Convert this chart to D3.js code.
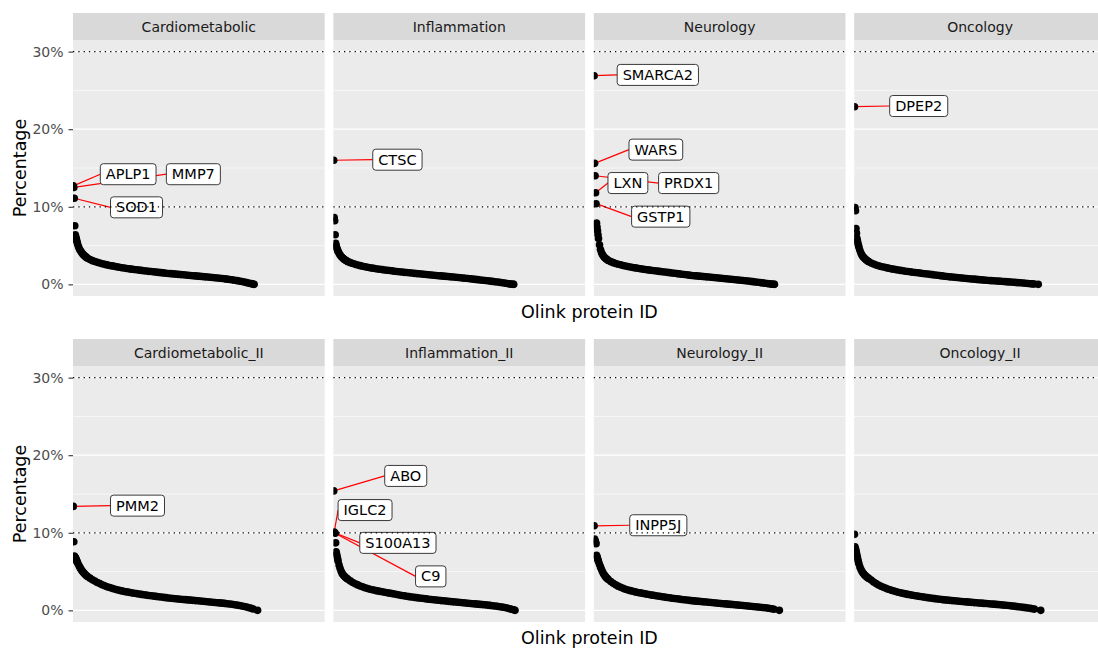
<!DOCTYPE html>
<html>
<head>
<meta charset="utf-8">
<script src="https://cdn.jsdelivr.net/npm/d3@7"></script>
<style>
  body { margin: 0; background: #fff; }
  svg { display: block; font-family: "DejaVu Sans", sans-serif; }
</style>
</head>
<body>
<svg id="chart" width="1098" height="648"></svg>
<script>
const panels = ["Cardiometabolic", "Inflammation", "Neurology", "Oncology",
  "Cardiometabolic_II", "Inflammation_II", "Neurology_II", "Oncology_II"];

// protein rank (sorted by percentage) at which each value was read
const sampleRanks = [1, 2, 3, 4, 5, 6, 7, 8, 9, 10,
  12, 14, 16, 18, 20, 22, 24, 26, 28, 30,
  35, 40, 45, 50, 55, 60, 65, 70, 75, 80,
  85, 90, 95, 100, 105, 110, 115, 120, 125, 130,
  135, 140, 145, 150, 155, 160, 165, 170, 175, 180,
  185, 190, 195, 200, 205, 210, 215, 220, 225, 230,
  235, 240, 245, 250, 255, 260, 265, 270, 275, 280,
  285, 290, 295, 300, 305, 310, 315, 320, 325, 330,
  335, 340, 345, 350, 355, 360, 364, 368];

// number of proteins per panel (rank of the last point)
const proteinCount = [370, 368, 369, 376, 377, 371, 379, 381];

// percentage per sampled rank, last value = last protein
const cardiometabolic = [12.7, 12.5, 11.1, 7.55, 6.4, 6.15, 5.9, 5.65, 5.4, 5.15,
  4.8, 4.5, 4.3, 4.1, 3.95, 3.8, 3.68, 3.57, 3.47, 3.38,
  3.2, 3.06, 2.94, 2.84, 2.75, 2.66, 2.58, 2.51, 2.44, 2.38,
  2.32, 2.26, 2.2, 2.15, 2.1, 2.05, 2.0, 1.96, 1.92, 1.88,
  1.84, 1.8, 1.76, 1.72, 1.68, 1.65, 1.61, 1.58, 1.54, 1.51,
  1.48, 1.44, 1.41, 1.38, 1.35, 1.32, 1.29, 1.26, 1.24, 1.21,
  1.18, 1.15, 1.12, 1.09, 1.06, 1.03, 1.0, 0.97, 0.94, 0.91,
  0.88, 0.85, 0.82, 0.78, 0.75, 0.71, 0.67, 0.63, 0.58, 0.53,
  0.48, 0.42, 0.36, 0.29, 0.22, 0.15, 0.09, 0.03, 0];
const inflammation = [16.0, 8.6, 8.2, 6.4, 5.3, 5.0, 4.75, 4.55, 4.4, 4.25,
  4.0, 3.8, 3.62, 3.48, 3.36, 3.25, 3.16, 3.08, 3.0, 2.93,
  2.8, 2.68, 2.58, 2.49, 2.41, 2.34, 2.27, 2.21, 2.15, 2.09,
  2.04, 1.99, 1.94, 1.9, 1.86, 1.82, 1.78, 1.74, 1.7, 1.66,
  1.62, 1.59, 1.55, 1.52, 1.49, 1.46, 1.42, 1.39, 1.36, 1.33,
  1.3, 1.27, 1.24, 1.21, 1.18, 1.15, 1.12, 1.09, 1.06, 1.03,
  1.0, 0.97, 0.94, 0.91, 0.88, 0.85, 0.81, 0.78, 0.75, 0.71,
  0.68, 0.64, 0.61, 0.57, 0.53, 0.5, 0.46, 0.42, 0.38, 0.34,
  0.3, 0.26, 0.21, 0.16, 0.11, 0.06, 0.03, 0.01, 0];
const neurology = [26.9, 15.6, 14.0, 11.8, 10.4, 7.9, 7.4, 6.9, 6.4, 5.9,
  5.1, 4.5, 4.1, 3.85, 3.65, 3.5, 3.37, 3.26, 3.16, 3.08,
  2.93, 2.8, 2.69, 2.6, 2.52, 2.44, 2.37, 2.3, 2.24, 2.18,
  2.12, 2.07, 2.02, 1.97, 1.92, 1.87, 1.83, 1.79, 1.75, 1.71,
  1.67, 1.63, 1.59, 1.55, 1.51, 1.47, 1.43, 1.39, 1.35, 1.31,
  1.27, 1.23, 1.19, 1.15, 1.12, 1.09, 1.06, 1.03, 1.0, 0.97,
  0.94, 0.91, 0.88, 0.85, 0.82, 0.79, 0.76, 0.73, 0.69, 0.66,
  0.63, 0.6, 0.56, 0.53, 0.5, 0.46, 0.43, 0.39, 0.35, 0.31,
  0.27, 0.23, 0.19, 0.14, 0.1, 0.06, 0.03, 0.01, 0];
const oncology = [22.9, 9.9, 9.5, 7.2, 6.6, 5.95, 5.6, 5.3, 5.05, 4.8,
  4.4, 4.05, 3.8, 3.6, 3.45, 3.32, 3.2, 3.1, 3.01, 2.93,
  2.76, 2.62, 2.5, 2.4, 2.31, 2.23, 2.16, 2.09, 2.02, 1.96,
  1.9, 1.85, 1.8, 1.75, 1.7, 1.65, 1.61, 1.57, 1.53, 1.49,
  1.45, 1.41, 1.37, 1.33, 1.29, 1.25, 1.21, 1.17, 1.13, 1.09,
  1.05, 1.01, 0.97, 0.94, 0.91, 0.88, 0.85, 0.82, 0.79, 0.76,
  0.73, 0.7, 0.67, 0.64, 0.61, 0.58, 0.55, 0.53, 0.5, 0.48,
  0.46, 0.44, 0.42, 0.4, 0.37, 0.35, 0.32, 0.3, 0.27, 0.25,
  0.22, 0.2, 0.17, 0.14, 0.11, 0.08, 0.06, 0.04, 0];
const cardiometabolic2 = [13.4, 8.85, 7.0, 6.9, 6.8, 6.7, 6.55, 6.4, 6.25, 6.1,
  5.85, 5.6, 5.38, 5.18, 5.0, 4.85, 4.71, 4.58, 4.47, 4.37,
  4.15, 3.95, 3.77, 3.6, 3.45, 3.3, 3.17, 3.05, 2.94, 2.84,
  2.75, 2.66, 2.58, 2.51, 2.44, 2.38, 2.32, 2.26, 2.21, 2.16,
  2.11, 2.06, 2.01, 1.97, 1.92, 1.88, 1.84, 1.8, 1.76, 1.72,
  1.68, 1.64, 1.6, 1.57, 1.53, 1.5, 1.47, 1.44, 1.41, 1.38,
  1.35, 1.32, 1.29, 1.26, 1.23, 1.2, 1.17, 1.14, 1.11, 1.08,
  1.05, 1.02, 0.99, 0.96, 0.93, 0.9, 0.86, 0.82, 0.78, 0.73,
  0.68, 0.63, 0.57, 0.5, 0.42, 0.34, 0.26, 0.18, 0];
const inflammation2 = [15.4, 10.1, 10.0, 9.95, 8.7, 7.55, 7.25, 6.95, 6.65, 6.35,
  5.85, 5.42, 5.07, 4.8, 4.6, 4.45, 4.32, 4.2, 4.1, 4.0,
  3.8, 3.6, 3.43, 3.28, 3.15, 3.03, 2.92, 2.82, 2.73, 2.65,
  2.58, 2.51, 2.45, 2.39, 2.33, 2.27, 2.22, 2.16, 2.1, 2.04,
  1.98, 1.92, 1.87, 1.82, 1.77, 1.72, 1.68, 1.64, 1.6, 1.56,
  1.52, 1.48, 1.44, 1.4, 1.37, 1.33, 1.3, 1.26, 1.23, 1.2,
  1.16, 1.13, 1.1, 1.07, 1.04, 1.01, 0.98, 0.95, 0.92, 0.89,
  0.86, 0.83, 0.8, 0.77, 0.74, 0.71, 0.68, 0.64, 0.6, 0.56,
  0.52, 0.47, 0.42, 0.36, 0.29, 0.21, 0.14, 0.07, 0];
const neurology2 = [10.9, 9.2, 9.0, 8.8, 8.6, 7.1, 6.9, 6.7, 6.5, 6.3,
  5.95, 5.6, 5.3, 5.0, 4.75, 4.55, 4.38, 4.22, 4.1, 3.98,
  3.72, 3.5, 3.3, 3.12, 2.97, 2.84, 2.73, 2.63, 2.54, 2.46,
  2.38, 2.31, 2.25, 2.19, 2.13, 2.07, 2.01, 1.96, 1.91, 1.86,
  1.81, 1.76, 1.71, 1.66, 1.62, 1.57, 1.53, 1.49, 1.45, 1.41,
  1.37, 1.33, 1.29, 1.25, 1.22, 1.19, 1.16, 1.13, 1.1, 1.07,
  1.04, 1.01, 0.98, 0.95, 0.92, 0.89, 0.86, 0.83, 0.8, 0.77,
  0.74, 0.71, 0.68, 0.65, 0.62, 0.59, 0.56, 0.53, 0.5, 0.47,
  0.44, 0.41, 0.37, 0.33, 0.29, 0.24, 0.2, 0.15, 0];
const oncology2 = [9.8, 8.2, 7.95, 7.7, 7.4, 7.1, 6.8, 6.5, 6.25, 6.0,
  5.6, 5.3, 5.05, 4.85, 4.68, 4.54, 4.42, 4.31, 4.21, 4.12,
  3.9, 3.66, 3.45, 3.27, 3.11, 2.97, 2.84, 2.72, 2.61, 2.52,
  2.43, 2.34, 2.26, 2.19, 2.12, 2.06, 2.0, 1.94, 1.89, 1.84,
  1.79, 1.74, 1.69, 1.64, 1.59, 1.55, 1.51, 1.47, 1.43, 1.39,
  1.35, 1.32, 1.29, 1.26, 1.23, 1.2, 1.17, 1.14, 1.11, 1.09,
  1.06, 1.03, 1.0, 0.98, 0.95, 0.93, 0.9, 0.88, 0.85, 0.82,
  0.8, 0.77, 0.74, 0.71, 0.68, 0.65, 0.62, 0.58, 0.55, 0.51,
  0.47, 0.43, 0.39, 0.35, 0.31, 0.26, 0.21, 0.16, 0];

const percentByPanel = [cardiometabolic, inflammation, neurology, oncology,
  cardiometabolic2, inflammation2, neurology2, oncology2];

// labelled proteins
const labelPanel = [0, 0, 0, 1, 2, 2, 2, 2, 2, 3, 4, 5, 5, 5, 5, 6];
const labelName = ["APLP1", "MMP7", "SOD1", "CTSC", "SMARCA2", "WARS", "PRDX1", "LXN",
  "GSTP1", "DPEP2", "PMM2", "ABO", "IGLC2", "S100A13", "C9", "INPP5J"];
const labelRank = [1, 2, 3, 1, 1, 2, 3, 4, 5, 1, 1, 1, 2, 3, 4, 1];
// where the repelled label box sits, as [rank, percent]
const labelAt = [[113, 14.2], [246, 14.2], [130, 9.93], [131, 16.07], [131, 27.0],
  [127, 17.37], [194, 13.06], [70, 13.06], [137, 8.73], [132, 22.99], [132, 13.5],
  [148, 17.33], [65, 12.93], [132, 8.7], [199, 4.38], [132, 10.97]];

const yTicks = [0, 10, 20, 30];
const yMinor = [5, 15, 25];
const refLines = [10, 30];

const svg = d3.select("#chart");
const left0 = 73, step = 260.4, panelW = 251.7, panelH = 256, stripH = 27;
const rowTop = [40, 366];

const x = d3.scaleLinear().domain([1, 514]).range([0.3, panelW]);
const y = d3.scaleLinear().domain([-1.5, 31.5]).range([panelH, 0]);

panels.forEach((name, i) => {
  const row = Math.floor(i / 4), col = i % 4;
  const g = svg.append("g")
    .attr("transform", `translate(${left0 + col * step},${rowTop[row]})`);

  // strip
  g.append("rect").attr("x", 0).attr("y", -stripH)
    .attr("width", panelW).attr("height", stripH).attr("fill", "#D9D9D9");
  g.append("text").attr("x", panelW / 2).attr("y", -stripH / 2)
    .attr("text-anchor", "middle").attr("dominant-baseline", "central")
    .attr("font-size", 14).attr("fill", "#1A1A1A").text(name);

  g.append("rect").attr("width", panelW).attr("height", panelH).attr("fill", "#EBEBEB");

  g.selectAll("line.minor").data(yMinor).enter().append("line")
    .attr("x1", 0).attr("x2", panelW).attr("y1", d => y(d)).attr("y2", d => y(d))
    .attr("stroke", "#fff").attr("stroke-width", 0.6);
  g.selectAll("line.major").data(yTicks).enter().append("line")
    .attr("x1", 0).attr("x2", panelW).attr("y1", d => y(d)).attr("y2", d => y(d))
    .attr("stroke", "#fff").attr("stroke-width", 1.2);

  if (col === 0) {
    const ax = g.append("g")
      .call(d3.axisLeft(y).tickValues(yTicks).tickFormat(d => d + "%").tickSize(4.5).tickPadding(5));
    ax.select(".domain").remove();
    ax.selectAll("line").attr("stroke", "#333").attr("stroke-width", 1.1);
    ax.selectAll("text").attr("font-size", 14).attr("fill", "#4D4D4D")
      .attr("font-family", "DejaVu Sans");
  }

  g.append("clipPath").attr("id", "clip" + i)
    .append("rect").attr("width", panelW).attr("height", panelH);

  const vals = percentByPanel[i];
  const pts = vals.map((v, k) => ({ r: k < sampleRanks.length ? sampleRanks[k] : proteinCount[i], v }));

  const segLayer = g.append("g").attr("clip-path", `url(#clip${i})`);
  g.append("g").attr("clip-path", `url(#clip${i})`)
    .selectAll("circle").data(pts).enter().append("circle")
    .attr("cx", d => x(d.r)).attr("cy", d => y(d.v)).attr("r", 3.8).attr("fill", "#000");

  const labLayer = g.append("g");
  labelName.forEach((lab, j) => {
    if (labelPanel[j] !== i) return;
    const px = x(labelRank[j]);
    const py = y(vals[sampleRanks.indexOf(labelRank[j])]);
    const cx = x(labelAt[j][0]), cy = y(labelAt[j][1]);
    const lg = labLayer.append("g");
    const t = lg.append("text").attr("x", cx).attr("y", cy)
      .attr("text-anchor", "middle").attr("dominant-baseline", "central")
      .attr("font-size", 14.5).attr("fill", "#000").text(lab);
    const bw = t.node().getComputedTextLength() + 11, bh = 21;
    lg.insert("rect", "text")
      .attr("x", cx - bw / 2).attr("y", cy - bh / 2).attr("width", bw).attr("height", bh)
      .attr("rx", 3).attr("fill", "#fff").attr("stroke", "#3a3a3a").attr("stroke-width", 1);
    const ends = [[cx - bw / 2, cy], [cx + bw / 2, cy], [cx, cy - bh / 2], [cx, cy + bh / 2]];
    const e = d3.least(ends, p => Math.hypot(p[0] - px, p[1] - py));
    segLayer.append("line").attr("x1", px).attr("y1", py).attr("x2", e[0]).attr("y2", e[1])
      .attr("stroke", "#FF0000").attr("stroke-width", 1.2);
  });

  g.selectAll("line.ref").data(refLines).enter().append("line")
    .attr("x1", 0).attr("x2", panelW).attr("y1", d => y(d)).attr("y2", d => y(d))
    .attr("stroke", "#000").attr("stroke-width", 1.3).attr("stroke-dasharray", "1.3,4");
});

// axis titles
rowTop.forEach(top => {
  svg.append("text")
    .attr("transform", `translate(25.5,${top + panelH / 2}) rotate(-90)`)
    .attr("text-anchor", "middle").attr("font-size", 17.5).attr("fill", "#000")
    .text("Percentage");
  svg.append("text")
    .attr("x", left0 + (3 * step + panelW) / 2).attr("y", top + panelH + 22)
    .attr("text-anchor", "middle").attr("font-size", 17.5).attr("fill", "#000")
    .text("Olink protein ID");
});
</script>
</body>
</html>
